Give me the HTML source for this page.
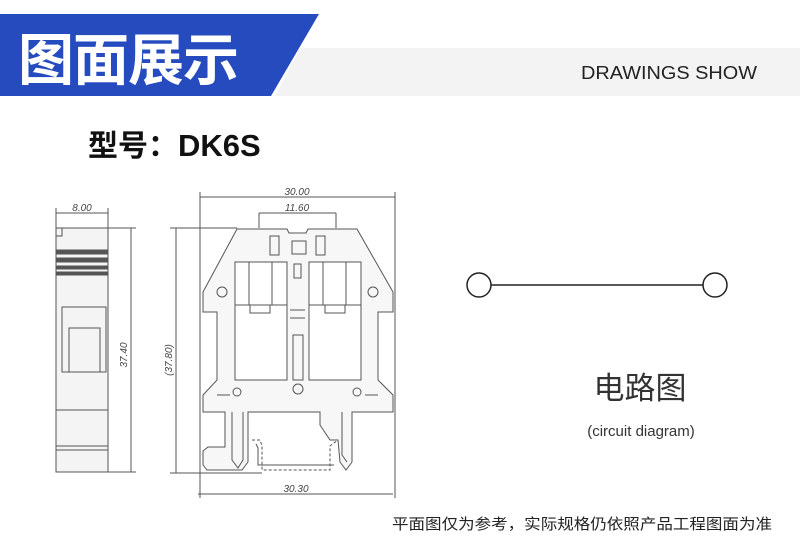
<!DOCTYPE html>
<html><head><meta charset="utf-8"><style>
html,body{margin:0;padding:0;background:#fff}
body{width:800px;height:552px;overflow:hidden;position:relative;font-family:"Liberation Sans","Noto Sans CJK SC",sans-serif}
</style></head><body>
<svg width="800" height="552" viewBox="0 0 800 552" xmlns="http://www.w3.org/2000/svg" style="position:absolute;left:0;top:0">
<polygon points="300,48 800,48 800,96 275,96" fill="#f3f3f3"/>
<polygon points="0,14 319,14 271,96 0,96" fill="#254bbf"/>
<text x="18" y="80" font-family="Noto Sans CJK SC,sans-serif" font-weight="bold" font-size="56" fill="#fff" letter-spacing="-1">图面展示</text>
<text x="757" y="79" text-anchor="end" font-family="Liberation Sans,sans-serif" font-size="18" fill="#222" textLength="176" lengthAdjust="spacingAndGlyphs">DRAWINGS SHOW</text>
<text x="88" y="156" font-family="Noto Sans CJK SC,sans-serif" font-weight="bold" font-size="30" fill="#111">型号：<tspan font-family="Liberation Sans,sans-serif" font-size="31">DK6S</tspan></text>

<g fill="none" stroke="#555" stroke-width="1">
<!-- side view -->
<rect x="56" y="228" width="52" height="244" fill="#f4f4f4"/>
<path d="M56,236 L62,236 L62,228"/>
<rect x="57" y="250" width="50" height="4" fill="#555"/>
<rect x="57" y="258" width="50" height="4" fill="#555"/>
<rect x="57" y="266" width="50" height="3" fill="#555"/>
<rect x="57" y="272" width="50" height="3" fill="#555"/>
<rect x="62" y="307" width="44" height="65"/>
<rect x="69" y="328" width="31" height="44"/>
<line x1="56" y1="410" x2="108" y2="410"/>
<line x1="56" y1="446" x2="108" y2="446"/>
<line x1="56" y1="450" x2="108" y2="450"/>
<!-- dims side -->
<line x1="56" y1="213" x2="108" y2="213"/>
<line x1="56" y1="208" x2="56" y2="228"/><line x1="108" y1="208" x2="108" y2="228"/>
<line x1="108" y1="228" x2="136" y2="228"/><line x1="108" y1="472" x2="136" y2="472"/>
<line x1="131" y1="228" x2="131" y2="472"/>
<!-- front view dims -->
<line x1="200" y1="197" x2="395" y2="197"/>
<line x1="200" y1="192" x2="200" y2="498"/><line x1="395" y1="192" x2="395" y2="498"/>
<line x1="259" y1="213" x2="336" y2="213"/>
<line x1="259" y1="213" x2="259" y2="228"/><line x1="336" y1="213" x2="336" y2="228"/>
<line x1="170" y1="228" x2="237" y2="228"/><line x1="170" y1="473" x2="262" y2="473"/>
<line x1="176" y1="228" x2="176" y2="473"/>
<line x1="198" y1="494" x2="393" y2="494"/>
<!-- front body -->
<path d="M237,229 L287,229 L289,233 L306,233 L308,229 L357,229 L393,292 L393,312 L378,312 L378,380 L393,395 L393,412 L352,412 L352,462 L346,470 L340,462 L338,440 L330,440 L320,425 L320,412 L248,412 L248,462 L242,470 L207,470 L203,465 L203,451 L208,447 L225,447 L225,412 L203,412 L203,395 L217,380 L217,312 L203,312 L203,292 Z" fill="#f7f7f7"/>
<path d="M232,412 L232,460 L238,468 L243,460 L243,412"/>
<path d="M342,412 L342,455 L347,462"/>
<rect x="235" y="262" width="52" height="118" fill="#fff"/>
<rect x="309" y="262" width="52" height="118" fill="#fff"/>
<line x1="235" y1="305" x2="287" y2="305"/><line x1="309" y1="305" x2="361" y2="305"/>
<rect x="250" y="305" width="20" height="8"/><rect x="325" y="305" width="20" height="8"/>
<line x1="249" y1="262" x2="249" y2="305"/><line x1="272" y1="262" x2="272" y2="305"/>
<line x1="323" y1="262" x2="323" y2="305"/><line x1="346" y1="262" x2="346" y2="305"/>
<rect x="270" y="236" width="9" height="19"/><rect x="292" y="241" width="14" height="13"/><rect x="316" y="236" width="9" height="19"/>
<rect x="294" y="264" width="7" height="14"/>
<rect x="293" y="335" width="10" height="45"/>
<line x1="290" y1="310" x2="305" y2="310"/><line x1="290" y1="318" x2="305" y2="318"/>
<circle cx="298" cy="389" r="5"/>
<circle cx="222" cy="292" r="5"/><circle cx="373" cy="292" r="5"/>
<circle cx="237" cy="392" r="4"/><circle cx="357" cy="392" r="4"/>
<path d="M217,395 L230,395 M365,395 L378,395"/>
<path d="M252,440 L260,440 L262,446 L262,470 L330,470 L330,446 L338,440" stroke-dasharray="3,2"/>
<path d="M256,444 L258,448 L258,465 L334,465"/>
</g>
<g font-family="Liberation Sans,sans-serif" font-size="10" fill="#444" font-style="italic">
<text x="82" y="211" text-anchor="middle">8.00</text>
<text x="297" y="195" text-anchor="middle">30.00</text>
<text x="297" y="211" text-anchor="middle">11.60</text>
<text x="296" y="492" text-anchor="middle">30.30</text>
<text transform="translate(127,355) rotate(-90)" text-anchor="middle">37.40</text>
<text transform="translate(172,360) rotate(-90)" text-anchor="middle">(37.80)</text>
</g>

<line x1="491" y1="285" x2="703" y2="285" stroke="#222" stroke-width="1.5"/>
<circle cx="479" cy="285" r="12" fill="#fff" stroke="#222" stroke-width="1.5"/>
<circle cx="715" cy="285" r="12" fill="#fff" stroke="#222" stroke-width="1.5"/>
<text x="640" y="399" text-anchor="middle" font-family="Noto Sans CJK SC,sans-serif" font-size="31" fill="#333">电路图</text>
<text x="641" y="436" text-anchor="middle" font-family="Liberation Sans,sans-serif" font-size="15" fill="#333">(circuit diagram)</text>
<text x="392" y="529" font-family="Noto Sans CJK SC,sans-serif" font-size="15" fill="#222" textLength="380" lengthAdjust="spacingAndGlyphs">平面图仅为参考，实际规格仍依照产品工程图面为准</text>
</svg>
</body></html>
